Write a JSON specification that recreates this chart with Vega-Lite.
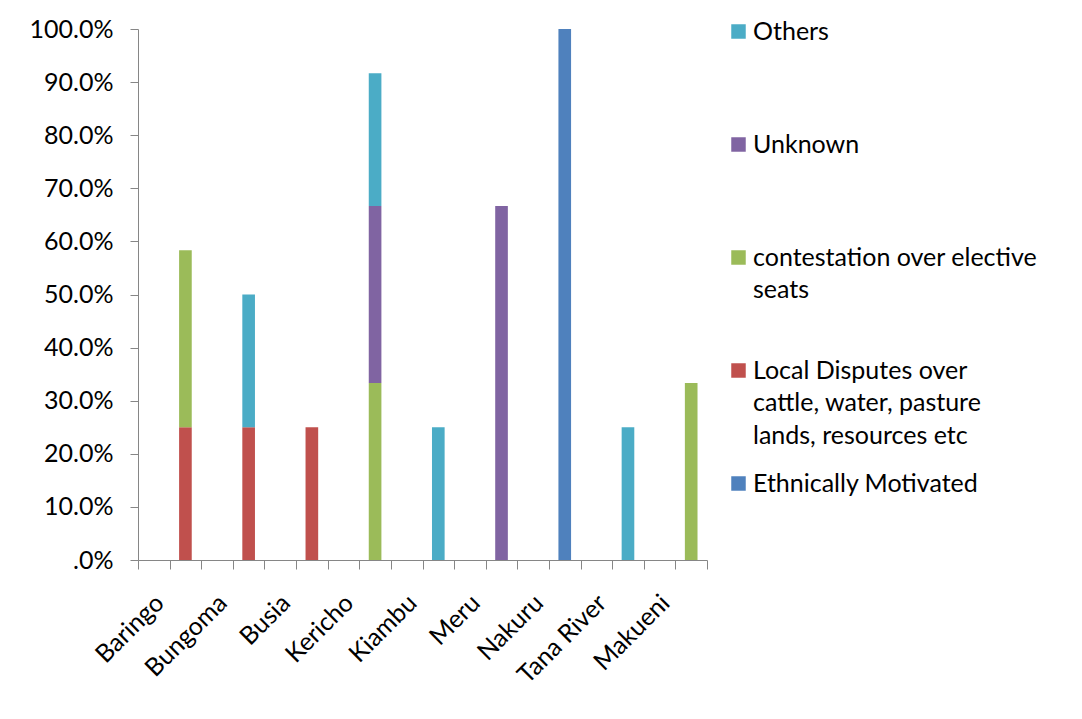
{
  "$schema": "https://vega.github.io/schema/vega-lite/v6.json",
  "width": 569,
  "height": 531,
  "autosize": {"type": "none"},
  "padding": {"left": 138, "top": 29, "right": 375, "bottom": 159},
  "background": "white",
  "config": {
    "view": {"stroke": null},
    "font": "Lato",
    "style": {"guide-label": {"lineHeight": 32.5}}
  },
  "data": {
    "values": [
      {"county": "Baringo", "cause": "Local Disputes over cattle, water, pasture lands, resources etc", "share": 0.25},
      {"county": "Baringo", "cause": "contestation over elective seats", "share": 0.3333},
      {"county": "Bungoma", "cause": "Local Disputes over cattle, water, pasture lands, resources etc", "share": 0.25},
      {"county": "Bungoma", "cause": "Others", "share": 0.25},
      {"county": "Busia", "cause": "Local Disputes over cattle, water, pasture lands, resources etc", "share": 0.25},
      {"county": "Kericho", "cause": "contestation over elective seats", "share": 0.3333},
      {"county": "Kericho", "cause": "Unknown", "share": 0.3333},
      {"county": "Kericho", "cause": "Others", "share": 0.25},
      {"county": "Kiambu", "cause": "Others", "share": 0.25},
      {"county": "Meru", "cause": "Unknown", "share": 0.6667},
      {"county": "Nakuru", "cause": "Ethnically Motivated", "share": 1.0},
      {"county": "Tana River", "cause": "Others", "share": 0.25},
      {"county": "Makueni", "cause": "contestation over elective seats", "share": 0.3333}
    ]
  },
  "transform": [
    {"calculate": "indexof(['Ethnically Motivated', 'Local Disputes over cattle, water, pasture lands, resources etc', 'contestation over elective seats', 'Unknown', 'Others'], datum.cause)", "as": "stackOrder"}
  ],
  "mark": {"type": "bar", "width": {"band": 0.4}},
  "encoding": {
    "x": {
      "field": "county",
      "type": "nominal",
      "scale": {
        "domain": ["_Baringo", "Baringo", "_Bungoma", "Bungoma", "_Busia", "Busia", "_Kericho", "Kericho", "_Kiambu", "Kiambu", "_Meru", "Meru", "_Nakuru", "Nakuru", "_Tana River", "Tana River", "_Makueni", "Makueni"],
        "paddingInner": 0,
        "paddingOuter": 0
      },
      "axis": {
        "title": null,
        "tickBand": "extent",
        "labelExpr": "slice(datum.label, 0, 1) == '_' ? slice(datum.label, 1) : ''",
        "labelAngle": -45,
        "labelAlign": "right",
        "labelBaseline": "top",
        "labelPadding": 21,
        "labelOffset": -3,
        "labelFontSize": 25,
        "labelColor": "#000000",
        "labelOverlap": false,
        "labelBound": false,
        "labelLimit": 300,
        "tickSize": 9,
        "tickColor": "#868686",
        "domainColor": "#868686",
        "grid": false
      }
    },
    "y": {
      "field": "share",
      "type": "quantitative",
      "stack": "zero",
      "scale": {"domain": [0, 1], "nice": false},
      "axis": {
        "title": null,
        "values": [0, 0.1, 0.2, 0.3, 0.4, 0.5, 0.6, 0.7, 0.8, 0.9, 1],
        "labelExpr": "datum.value == 0 ? '.0%' : format(datum.value, '.1%')",
        "labelFontSize": 25,
        "labelColor": "#000000",
        "labelPadding": 17,
        "tickSize": 8,
        "tickColor": "#868686",
        "domainColor": "#868686",
        "grid": false
      }
    },
    "color": {
      "field": "cause",
      "type": "nominal",
      "scale": {
        "domain": ["Others", "Unknown", "contestation over elective seats", "Local Disputes over cattle, water, pasture lands, resources etc", "Ethnically Motivated"],
        "range": ["#4BACC6", "#8064A2", "#9BBB59", "#C0504D", "#4F81BD"]
      },
      "legend": {
        "title": null,
        "orient": "none",
        "direction": "vertical",
        "legendX": 588,
        "legendY": -10,
        "padding": 0,
        "symbolType": "square",
        "symbolSize": 210,
        "symbolStrokeWidth": 0,
        "symbolOpacity": 1,
        "labelFontSize": 25,
        "labelColor": "#000000",
        "labelOffset": 2,
        "labelLimit": 600,
        "labelBaseline": "middle",
        "rowPadding": 22,
        "labelExpr": "datum.label == 'contestation over elective seats' ? ['contestation over elective', 'seats', ''] : datum.label == 'Local Disputes over cattle, water, pasture lands, resources etc' ? ['Local Disputes over', 'cattle, water, pasture', 'lands, resources etc'] : [datum.label, '', '']"
      }
    },
    "order": {"field": "stackOrder", "type": "quantitative"}
  }
}
